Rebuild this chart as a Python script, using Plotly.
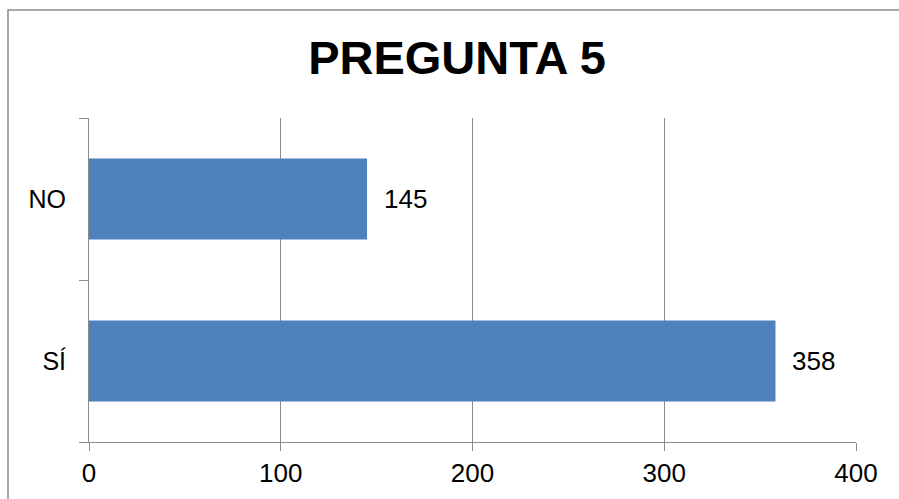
import plotly.graph_objects as go

categories = ["SÍ", "NO"]
values = [358, 145]
x_ticks = [0, 100, 200, 300, 400]
title_text = "PREGUNTA 5"

FONT = "Liberation Sans, Arial, sans-serif"
GRID = "#8c8c8c"

fig = go.Figure()
fig.add_trace(go.Bar(
    x=values, y=categories, orientation="h",
    marker=dict(color="#4F81BD", line=dict(width=0)),
    hoverinfo="x+y",
))

for c, v in zip(categories, values):
    fig.add_annotation(x=v, y=c, text=str(v), showarrow=False,
                       xanchor="left", yanchor="middle", xshift=15,
                       font=dict(family=FONT, size=26, color="black"))

W, H = 899, 499
ml, mr, mt, mb = 89, 43, 118, 57
pw, ph = W - ml - mr, H - mt - mb

# outer chart border
fig.add_shape(type="rect", xref="paper", yref="paper",
              x0=(8 - ml) / pw, x1=(W + 5 - ml) / pw,
              y0=-(H + 5 - (H - mb)) / ph, y1=((H - mb) - 10) / ph,
              line=dict(color="#8a8a8a", width=1.5), layer="below")

fig.update_layout(
    width=W, height=H,
    margin=dict(l=ml, r=mr, t=mt, b=mb, autoexpand=False),
    paper_bgcolor="white", plot_bgcolor="white",
    showlegend=False,
    bargap=0.5,
    title=dict(text="<b>" + title_text + "</b>", x=457 / W, xanchor="center",
               y=1 - 58 / H, yanchor="middle",
               font=dict(family=FONT, size=47, color="black")),
    font=dict(family=FONT, size=26, color="black"),
    xaxis=dict(range=[0, 400], tickvals=x_ticks, showgrid=True, gridcolor=GRID,
               gridwidth=1, showline=True, linecolor=GRID, linewidth=1,
               ticks="outside", ticklen=8, tickcolor=GRID, zeroline=False,
               tickfont=dict(family=FONT, size=26, color="black")),
    yaxis=dict(type="category", categoryorder="array", categoryarray=categories,
               showline=True, linecolor=GRID, linewidth=1, showgrid=False,
               ticks="outside", tickson="boundaries", ticklen=9, tickcolor=GRID,
               ticklabelstandoff=17,
               tickfont=dict(family=FONT, size=25, color="black")),
)

fig.write_html("out.html", config={"displayModeBar": False},
               post_script="document.body.style.margin='0px';document.body.style.overflow='hidden';")
